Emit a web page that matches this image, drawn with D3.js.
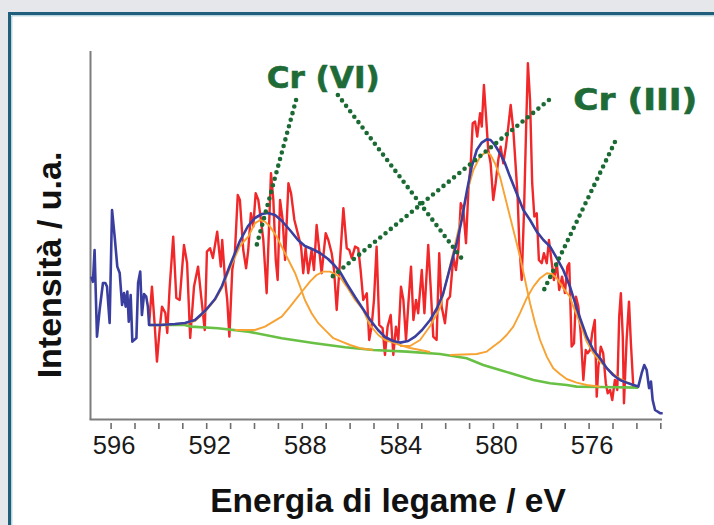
<!DOCTYPE html>
<html><head><meta charset="utf-8">
<script src="https://cdn.jsdelivr.net/npm/d3@7"></script>
<style>body{margin:0;background:#e6e7eb;} svg{display:block;}</style>
</head><body>
<svg id="c" width="714" height="525"></svg>
<script>
// ---------- DATA (binding energy in eV, intensity in arbitrary counts) ----------
const rawLeftE = [596.81,596.74,596.67,596.57,596.46,596.32,596.22,596.15,596.04,595.94,595.83,595.72,595.62,595.52,595.44,595.37,595.30,595.24,595.16,595.09,594.92,594.85,594.76,594.69,594.60,594.51,594.44,594.39];
const rawLeftI = [712,686,845,412,545,680,680,662,480,1045,912,762,730,570,630,562,637,487,620,387,405,680,737,520,625,612,562,470];

const redE = [594.39,594.27,594.15,594.06,593.95,593.85,593.71,593.63,593.53,593.38,593.25,593.11,592.93,592.80,592.67,592.51,592.34,592.21,592.06,591.97,591.84,591.72,591.54,
591.39,591.33,591.21,591.12,591.03,590.91,590.80,590.68,590.59,590.45,590.33,590.24,590.13,590.03,589.93,589.82,589.72,589.61,589.47,589.37,589.29,589.19,589.09,589.01,588.91,588.80,588.70,588.56,588.45,588.31,588.17,588.03,587.94,587.84,587.73,587.59,587.49,587.38,587.27,587.17,587.00,586.89,586.75,586.65,586.54,586.40,586.26,
586.12,586.01,585.91,585.77,585.64,585.54,585.43,585.28,585.18,585.08,584.98,584.87,584.76,584.62,584.52,584.41,584.28,584.17,584.06,583.96,583.85,583.75,583.64,583.54,583.43,583.33,583.22,583.13,582.98,582.87,582.71,582.61,582.50,582.36,582.25,582.15,582.01,581.91,581.80,
581.66,581.55,581.45,581.35,581.24,581.13,581.03,580.93,580.85,580.75,580.66,580.54,580.47,580.38,580.29,580.20,580.10,579.99,579.89,579.78,579.68,579.57,579.46,579.36,579.26,579.15,579.05,578.97,578.90,578.80,578.70,578.62,578.54,578.45,578.36,578.27,578.17,578.08,577.96,577.87,577.75,577.66,577.54,577.45,577.33,577.23,
577.11,576.99,576.89,576.81,576.71,576.61,576.53,576.43,576.33,576.22,576.12,576.04,575.94,575.85,575.74,575.66,575.59,575.49,575.39,575.28,575.20,575.10,575.01,574.90,574.80,574.72,574.65,574.57,574.52,574.41,574.31,574.23,574.13,574.02,573.92];
const redI = [470,662,462,287,445,562,530,430,655,912,605,595,870,780,405,662,762,612,445,837,854,805,937,
762,895,695,595,412,745,830,1120,1095,845,754,845,1029,962,1129,1095,1004,895,629,962,1229,1095,795,695,1095,995,795,1179,1129,995,929,862,729,854,729,845,745,970,845,729,929,895,829,745,545,795,1054,
854,845,804,862,854,745,595,629,395,462,595,862,470,454,320,462,520,320,462,395,662,595,395,579,762,495,595,529,745,529,870,662,412,395,829,562,479,595,612,
812,745,845,1079,1045,879,1145,1279,1479,1487,1412,1529,1462,1670,1512,1345,1279,1095,1179,1295,1362,1279,1362,1462,1570,1445,1262,1112,879,695,1045,1429,1779,1595,1179,1012,1029,795,779,829,779,895,779,695,779,645,
712,630,762,779,362,379,612,562,429,195,345,329,345,429,495,112,262,362,329,179,129,145,95,195,145,512,629,412,79,395,587,379,162,162,162];

const fitE = [594.39,593.93,593.31,592.89,592.47,592.05,591.63,591.34,591.00,590.59,590.25,589.96,589.67,589.42,589.12,588.83,588.50,588.16,587.87,587.57,587.24,586.90,586.61,586.40,586.11,585.77,585.44,585.14,584.81,584.52,584.18,583.89,583.55,583.26,582.97,582.63,582.34,582.09,581.80,581.52,581.31,581.10,580.89,580.68,580.47,580.26,580.10,579.92,579.71,579.50,579.29,579.01,578.73,578.45,578.17,577.89,577.61,577.33,577.06,576.78,576.43,576.08,575.80,575.52,575.24,574.97,574.69,574.41,574.13,573.92];
const fitI = [470,470,475,480,495,540,600,665,770,890,965,1005,1025,1030,1020,990,945,895,865,850,830,800,765,735,675,610,550,495,445,410,390,382,390,412,445,495,555,625,755,878,995,1135,1262,1345,1382,1398,1395,1370,1329,1279,1212,1129,1045,995,937,895,862,804,745,662,529,412,345,304,254,220,195,182,170,162];

const rawRightE = [573.92,573.78,573.67,573.57,573.47,573.39,573.32,573.22,573.01,572.90];
const rawRightI = [162,229,270,245,154,187,95,45,29,29];

const baseE = [594.39,592.90,592.62,591.51,590.24,588.84,587.45,586.19,585.01,583.61,582.22,581.10,580.41,579.71,579.01,578.31,577.61,576.92,576.50,575.52,573.92];
const baseI = [470,470,462,454,437,404,379,359,345,337,325,304,270,245,220,195,179,170,162,160,157];

// fitted components (Cr(VI): A, B ; Cr(III): C, D)
const peakAE = [593.93,593.31,592.89,592.47,592.05,591.63,591.34,591.00,590.59,590.24,589.96,589.75,589.54,589.33,589.05,588.77,588.49,588.28,588.07,587.87,587.59,587.31,586.96,586.68,586.33,585.98,585.56,585.02];
const peakAI = [470,475,478,490,535,595,655,755,865,912,978,995,987,962,912,845,779,729,662,595,529,479,437,404,387,370,354,345];
const peakBE = [590.80,589.96,589.54,589.19,588.84,588.49,588.21,587.94,587.66,587.38,587.10,586.82,586.54,586.40,586.12,585.77,585.43,585.15,584.80,584.52,584.17,583.89,583.47,583.05,582.63];
const peakBI = [445,445,462,487,512,562,604,645,687,720,737,737,720,710,662,595,545,470,420,395,382,370,355,345,335];
const peakCE = [583.89,583.47,583.05,582.63,582.22,581.80,581.38,581.10,580.82,580.54,580.26,580.10,579.92,579.71,579.50,579.29,579.08,578.87,578.66,578.45,578.24,578.03,577.75,577.48,577.20,576.92,576.50,576.08,575.52];
const peakCI = [365,365,395,465,555,765,979,1129,1245,1312,1337,1320,1279,1212,1112,1012,912,812,695,579,479,395,312,254,225,200,182,170,162];
const peakDE = [581.80,580.68,580.26,579.99,579.71,579.43,579.15,578.87,578.59,578.31,578.03,577.75,577.54,577.33,577.06,576.78,576.64,576.36,576.08,575.80,575.52,575.24,574.97,574.69,574.41,574.13,573.92];
const peakDI = [320,325,337,362,387,420,462,529,604,662,704,729,725,704,654,610,562,479,387,329,287,254,225,202,185,170,162];

// axis ticks
const minorTicks = d3.range(596, 572.5, -1);
const tickLabels = [596, 592, 588, 584, 580, 576];

// annotation labels and leader lines [E1, I1, E2, I2]
const labelVI = {text: "Cr (VI)", E: 589.47, I: 1655, len: 113};
const labelIII = {text: "Cr (III)", E: 576.64, I: 1545, len: 124};
const leadersVI = [[588.24,1595,589.92,855],[586.49,1620,581.26,795]];
const leadersIII = [[577.66,1595,586.90,695],[574.90,1385,577.91,635]];

// ---------- DRAW ----------
const svg = d3.select("#c");
svg.append("rect").attr("width",714).attr("height",525).attr("fill","#e6e7eb");
svg.append("rect").attr("x",9.5).attr("y",13.5).attr("width",720).attr("height",530)
  .attr("fill","#ffffff").attr("stroke","#1f5f7b").attr("stroke-width",3);
svg.append("path").attr("d","M11.8,540V15.8H720").attr("fill","none").attr("stroke","#9cc3d0").attr("stroke-width",1);

const x = d3.scaleLinear().domain([596, 573]).range([110.6, 660.3]);
const y = d3.scaleLinear().domain([0, 1840]).range([419, 51]);

const line = d3.line().x(d => x(d[0])).y(d => y(d[1]));
const zip = (a, b) => a.map((v, i) => [v, b[i]]);

// axis frame
svg.append("line").attr("x1",90.5).attr("x2",90.5).attr("y1",51).attr("y2",419.5)
  .attr("stroke","#7d7d7d").attr("stroke-width",2);
svg.append("line").attr("x1",89.5).attr("x2",662).attr("y1",419.5).attr("y2",419.5)
  .attr("stroke","#7d7d7d").attr("stroke-width",2);

const ax = svg.append("g").attr("transform","translate(0,423)")
  .call(d3.axisBottom(x).tickValues(minorTicks).tickSize(6).tickSizeOuter(0)
    .tickFormat(d => tickLabels.includes(d) ? String(d) : ""));
ax.select(".domain").remove();
ax.selectAll(".tick line").attr("stroke","#6e6e6e").attr("stroke-width",1.6);
ax.selectAll(".tick text").attr("y",30.5).attr("dy",null).attr("dx",3)
  .attr("font-family","'Liberation Sans', Arial, sans-serif").attr("font-size",25.5).attr("fill","#1a1a1a");

svg.append("text").attr("x",388).attr("y",512).attr("text-anchor","middle")
  .attr("font-family","'Liberation Sans', Arial, sans-serif").attr("font-weight","bold")
  .attr("font-size",33.5).attr("fill","#111").text("Energia di legame / eV");
svg.append("text").attr("transform","translate(61,265) rotate(-90)").attr("text-anchor","middle")
  .attr("font-family","'Liberation Sans', Arial, sans-serif").attr("font-weight","bold")
  .attr("font-size",34).attr("fill","#111").text("Intensità / u.a.");

// curves
svg.append("path").attr("d", line(zip(redE, redI))).attr("fill","none")
  .attr("stroke","#f0282a").attr("stroke-width",2.4).attr("stroke-linejoin","round");
svg.append("path").attr("d", line(zip(baseE, baseI))).attr("fill","none")
  .attr("stroke","#68c044").attr("stroke-width",2.6);
[[peakAE,peakAI],[peakBE,peakBI],[peakCE,peakCI],[peakDE,peakDI]].forEach(([e,i]) => {
  svg.append("path").attr("d", line(zip(e, i))).attr("fill","none")
    .attr("stroke","#f7a232").attr("stroke-width",1.9).attr("stroke-linejoin","round");
});
const blue = zip(rawLeftE, rawLeftI).concat(zip(fitE, fitI).slice(1), zip(rawRightE, rawRightI).slice(1));
svg.append("path").attr("d", line(blue)).attr("fill","none")
  .attr("stroke","#3a3f9f").attr("stroke-width",2.6).attr("stroke-linejoin","round");

// annotations
leadersVI.concat(leadersIII).forEach(l => {
  svg.append("line").attr("x1",x(l[0])).attr("y1",y(l[1])).attr("x2",x(l[2])).attr("y2",y(l[3]))
    .attr("stroke","#1b6a34").attr("stroke-width",4.6).attr("stroke-linecap","round")
    .attr("stroke-dasharray","0 6.8");
});
[labelVI, labelIII].forEach(l => {
  svg.append("text").attr("x",x(l.E)).attr("y",y(l.I))
    .attr("font-family","'DejaVu Sans', Verdana, sans-serif").attr("font-weight","bold")
    .attr("font-size",31).attr("fill","#1e6b37").attr("stroke","#1e6b37").attr("stroke-width",0.6)
    .attr("textLength", l.len).attr("lengthAdjust","spacingAndGlyphs").text(l.text);
});
</script>
</body></html>
